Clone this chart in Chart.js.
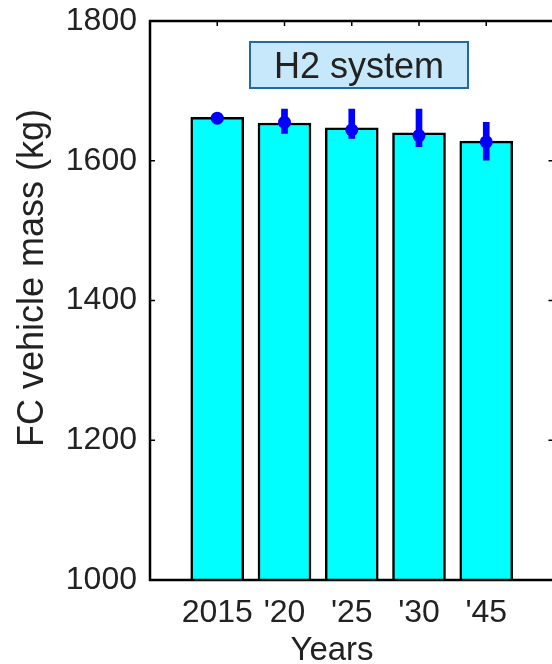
<!DOCTYPE html>
<html>
<head>
<meta charset="utf-8">
<script src="https://cdn.jsdelivr.net/npm/chart.js@4.4.1/dist/chart.umd.min.js"></script>
<style>
  html, body { margin: 0; padding: 0; background: #fff; overflow: hidden; }
  #wrap { width: 552px; height: 664px; overflow: hidden; }
</style>
</head>
<body>
<div id="wrap"><canvas id="fc-mass" width="560" height="664"></canvas></div>
<script>
(function () {
    'use strict';

    // vehicle mass per model year, with the spread of the H2 system cases
    var yearLabels = ['2015', "'20", "'25", "'30", "'45"];
    var massMean   = [1662, 1654, 1647, 1640, 1628];
    var massLow    = [1661, 1639, 1632, 1620, 1601];
    var massHigh   = [1661, 1674, 1674, 1674, 1655];
    var massPoint  = [1661, 1655, 1644, 1636, 1627];
    var yTicks     = [1000, 1200, 1400, 1600, 1800];

    var FONT = '"Liberation Sans", Arial, sans-serif';
    var INK = '#222222';

    function xy(arr) {
        return arr.map(function (v, i) { return { x: i + 1, y: v }; });
    }

    // box with inward tick marks on all four sides
    var framePlugin = {
        id: 'frame',
        beforeDatasetsDraw: function (chart) {
            var ctx = chart.ctx, a = chart.chartArea;
            var x = chart.scales.x, y = chart.scales.y;
            ctx.save();
            ctx.strokeStyle = '#000';
            ctx.lineWidth = 1.5;
            ctx.beginPath();
            y.ticks.forEach(function (t) {
                var py = y.getPixelForValue(t.value);
                ctx.moveTo(a.left, py); ctx.lineTo(a.left + 5, py);
                ctx.moveTo(a.right, py); ctx.lineTo(a.right - 5, py);
            });
            x.ticks.forEach(function (t) {
                var px = x.getPixelForValue(t.value);
                ctx.moveTo(px, a.top); ctx.lineTo(px, a.top + 5);
                ctx.moveTo(px, a.bottom); ctx.lineTo(px, a.bottom - 5);
            });
            ctx.stroke();
            ctx.restore();
        },
        afterDatasetsDraw: function (chart) {
            var ctx = chart.ctx, a = chart.chartArea;
            ctx.save();
            ctx.strokeStyle = '#000';
            ctx.lineWidth = 2.5;
            ctx.strokeRect(a.left, a.top, a.right - a.left, a.bottom - a.top);
            ctx.restore();
        }
    };

    // axis titles and the in-plot label box
    var labelPlugin = {
        id: 'labels',
        afterDraw: function (chart) {
            var ctx = chart.ctx;
            ctx.save();
            ctx.fillStyle = INK;

            ctx.font = '36px ' + FONT;
            ctx.textAlign = 'center';
            ctx.textBaseline = 'alphabetic';
            ctx.save();
            ctx.translate(43, 278);
            ctx.rotate(-Math.PI / 2);
            ctx.fillText('FC vehicle mass (kg)', 0, 0);
            ctx.restore();

            ctx.font = '33px ' + FONT;
            ctx.fillText('Years', 332, 660);

            ctx.fillStyle = '#c6e8fa';
            ctx.fillRect(250, 42, 218, 46);
            ctx.strokeStyle = '#1f6aa6';
            ctx.lineWidth = 2;
            ctx.strokeRect(250, 42, 218, 46);
            ctx.fillStyle = INK;
            ctx.font = '36px ' + FONT;
            ctx.fillText('H2 system', 359, 78);
            ctx.restore();
        }
    };

    new Chart(document.getElementById('fc-mass'), {
        type: 'bar',
        data: {
            datasets: [{
                type: 'scatter',
                data: xy(massPoint),
                showLine: false,
                pointRadius: 6.5,
                pointHoverRadius: 6.5,
                pointBackgroundColor: '#0000ff',
                pointBorderWidth: 0,
                order: 1
            }, {
                data: massLow.map(function (v, i) { return { x: i + 1, y: [v, massHigh[i]] }; }),
                backgroundColor: '#0000ff',
                borderWidth: 0,
                barThickness: 6,
                grouped: false,
                order: 2
            }, {
                data: xy(massMean),
                backgroundColor: '#00ffff',
                borderColor: '#000000',
                borderWidth: 2.5,
                borderSkipped: 'start',
                barThickness: 53,
                base: 1000,
                grouped: false,
                order: 3
            }]
        },
        options: {
            responsive: false,
            animation: false,
            layout: { padding: { top: 21, right: 4, left: 0, bottom: 0 } },
            plugins: { legend: { display: false }, tooltip: { enabled: false } },
            scales: {
                x: {
                    type: 'linear',
                    offset: false,
                    min: 0,
                    max: 6,
                    grid: { display: false, drawTicks: false },
                    border: { display: false },
                    afterBuildTicks: function (s) {
                        s.ticks = yearLabels.map(function (_, i) { return { value: i + 1 }; });
                    },
                    afterFit: function (s) {
                        s.height = 84;
                        s.paddingLeft = 0;
                        s.paddingRight = 0;
                    },
                    ticks: {
                        autoSkip: false,
                        maxRotation: 0,
                        padding: 14,
                        color: INK,
                        font: { family: FONT, size: 32 },
                        callback: function (v) { return yearLabels[v - 1] || ''; }
                    }
                },
                y: {
                    min: 1000,
                    max: 1800,
                    grid: { display: false, drawTicks: false },
                    border: { display: false },
                    afterBuildTicks: function (s) {
                        s.ticks = yTicks.map(function (v) { return { value: v }; });
                    },
                    afterFit: function (s) {
                        s.width = 150;
                        s.paddingTop = 0;
                        s.paddingBottom = 0;
                    },
                    ticks: {
                        padding: 13,
                        color: INK,
                        font: { family: FONT, size: 32 },
                        callback: function (v) { return String(v); }
                    }
                }
            }
        },
        plugins: [framePlugin, labelPlugin]
    });
})();
</script>
</body>
</html>
